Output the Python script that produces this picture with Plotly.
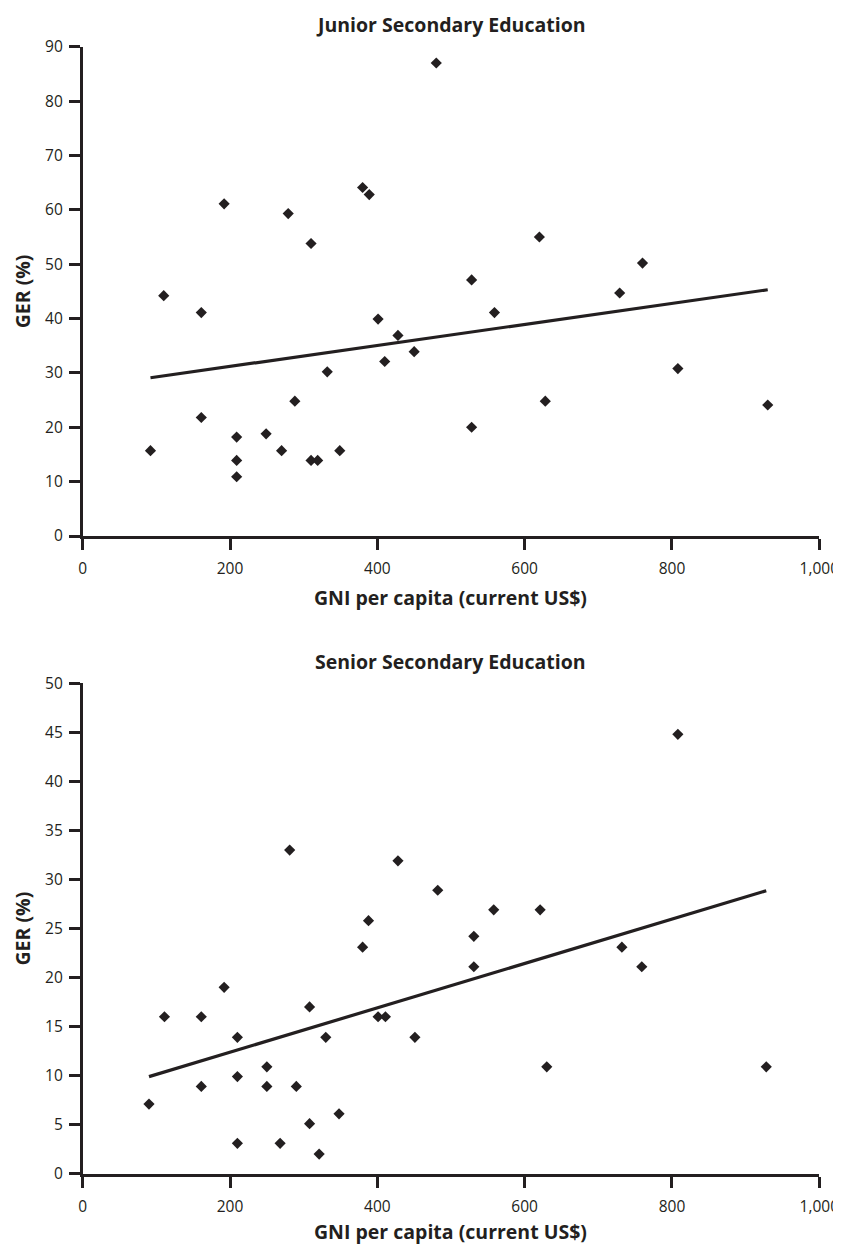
import plotly.graph_objects as go

# Junior secondary education: GNI per capita (US$) vs GER (%)
junior_gni = [92, 110, 161, 161, 192, 209, 209, 209, 249, 270, 279, 288, 310, 310, 319,
              332, 349, 380, 389, 401, 410, 428, 450, 480, 528, 528, 559, 620, 628, 729,
              760, 808, 930]
junior_ger = [15.7, 44.2, 41.1, 21.8, 61.1, 18.2, 13.9, 10.9, 18.8, 15.7, 59.3, 24.8, 53.8,
              13.9, 13.9, 30.2, 15.7, 64.1, 62.8, 39.9, 32.1, 36.9, 33.9, 87.0, 47.1, 20.0,
              41.1, 55.0, 24.8, 44.7, 50.2, 30.8, 24.1]
junior_trend_x = [92, 930]
junior_trend_y = [29.1, 45.3]

# Senior secondary education
senior_gni = [90, 111, 161, 161, 192, 210, 210, 210, 250, 250, 268, 281, 290, 308, 308,
              321, 330, 348, 380, 388, 401, 411, 428, 451, 482, 531, 531, 558, 621, 630,
              732, 759, 808, 928]
senior_ger = [7.1, 16.0, 16.0, 8.9, 19.0, 13.9, 9.9, 3.1, 10.9, 8.9, 3.1, 33.0, 8.9, 17.0,
              5.1, 2.0, 13.9, 6.1, 23.1, 25.8, 16.0, 16.0, 31.9, 13.9, 28.9, 24.2, 21.1,
              26.9, 26.9, 10.9, 23.1, 21.1, 44.8, 10.9]
senior_trend_x = [90, 928]
senior_trend_y = [9.9, 28.85]

x_ticks = [0, 200, 400, 600, 800, 1000]
x_tick_labels = ["0", "200", "400", "600", "800", "1,000"]
junior_y_ticks = list(range(0, 91, 10))
senior_y_ticks = list(range(0, 51, 5))

titles = ["Junior Secondary Education", "Senior Secondary Education"]
x_title = "GNI per capita (current US$)"
y_title = "GER (%)"

INK = "#231f20"
FONT = "Open Sans"
TITLE_SIZE = 19.5
TICK_SIZE = 15.5

# The page body has an 8px margin, so the figure starts at (8, 8) in the window.
OFF = 8
W, H = 841 - OFF, 1245 - OFF

# window-pixel geometry of the two panels
px_left, px_right = 82.7 - OFF, 819.3 - OFF
panels = [
    dict(top=46.7, bottom=536.0, title_y=24.0, xtitle_y=597.0),
    dict(top=683.3, bottom=1173.7, title_y=661.7, xtitle_y=1231.5),
]

def py(v):
    return 1 - (v - OFF) / H

fig = go.Figure()

data = [
    (junior_gni, junior_ger, junior_trend_x, junior_trend_y, "x", "y", [0, 90], junior_y_ticks),
    (senior_gni, senior_ger, senior_trend_x, senior_trend_y, "x2", "y2", [0, 50], senior_y_ticks),
]

annotations = []
for i, (gx, gy, tx, ty, xa, ya, yr, yt) in enumerate(data):
    fig.add_trace(go.Scatter(x=tx, y=ty, mode="lines", xaxis=xa, yaxis=ya,
                             line=dict(color=INK, width=3.2), showlegend=False,
                             hoverinfo="skip", cliponaxis=False))
    fig.add_trace(go.Scatter(x=gx, y=gy, mode="markers", xaxis=xa, yaxis=ya,
                             marker=dict(symbol="diamond", size=8.6, color=INK,
                                         line=dict(width=0)),
                             showlegend=False, cliponaxis=False))
    p = panels[i]
    suffix = "" if i == 0 else str(i + 1)
    axis_common = dict(showline=True, linecolor=INK, linewidth=2.6, ticks="outside",
                       ticklen=11, tickwidth=2.6, tickcolor=INK, showgrid=False,
                       zeroline=False, automargin=False,
                       tickfont=dict(family=FONT, size=TICK_SIZE, color=INK))
    fig.update_layout(**{
        "xaxis" + suffix: dict(domain=[px_left / W, px_right / W], range=[0, 1000],
                               tickvals=x_ticks, ticktext=x_tick_labels,
                               anchor="y" + suffix, ticklabelstandoff=6, **axis_common),
        "yaxis" + suffix: dict(domain=[py(p["bottom"]), py(p["top"])], range=yr,
                               tickvals=yt, anchor="x" + suffix,
                               ticklabelstandoff=3, **axis_common),
    })
    cx = (px_left + px_right) / 2 / W
    annotations.append(dict(text="<b>" + titles[i] + "</b>", x=cx, y=py(p["title_y"]),
                            xref="paper", yref="paper", showarrow=False,
                            xanchor="center", yanchor="middle",
                            font=dict(family=FONT, size=TITLE_SIZE, color=INK)))
    annotations.append(dict(text="<b>" + x_title + "</b>", x=cx, y=py(p["xtitle_y"]),
                            xref="paper", yref="paper", showarrow=False,
                            xanchor="center", yanchor="middle",
                            font=dict(family=FONT, size=TITLE_SIZE, color=INK)))
    annotations.append(dict(text="<b>" + y_title + "</b>", x=(22 - OFF) / W,
                            y=py((p["top"] + p["bottom"]) / 2),
                            xref="paper", yref="paper", showarrow=False, textangle=-90,
                            xanchor="center", yanchor="middle",
                            font=dict(family=FONT, size=TITLE_SIZE, color=INK)))

fig.update_layout(width=W, height=H, margin=dict(l=0, r=0, t=0, b=0, pad=0),
                  paper_bgcolor="white", plot_bgcolor="white",
                  showlegend=False, annotations=annotations)

fig.write_html("out.html")
